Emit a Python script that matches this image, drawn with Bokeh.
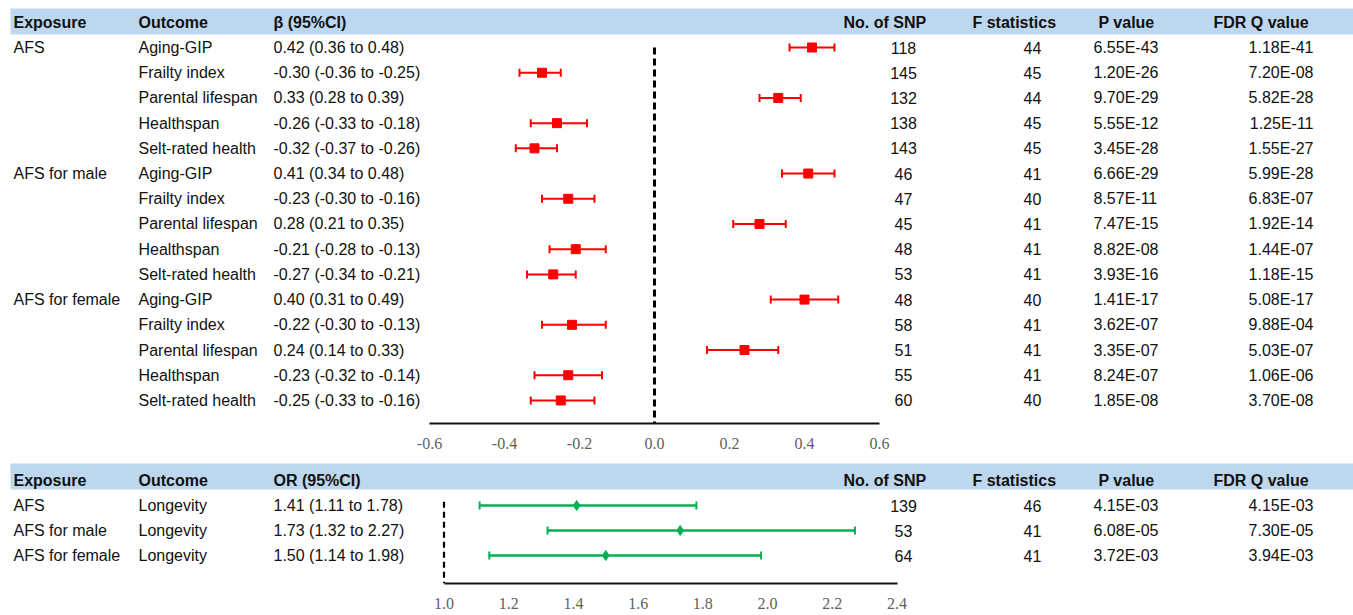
import numpy as np
from bokeh.plotting import figure
from bokeh.models import Range1d, LinearAxis, FixedTicker, PrintfTickFormatter, ColumnDataSource
from bokeh.layouts import column
from bokeh.core.properties import value
from bokeh.embed import file_html
from bokeh.resources import INLINE

# ---------------- data ----------------
exposure_groups = ["AFS", "AFS for male", "AFS for female"]
outcome_names = ["Aging-GIP", "Frailty index", "Parental lifespan", "Healthspan", "Selt-rated health"]
beta = [0.42, -0.30, 0.33, -0.26, -0.32, 0.41, -0.23, 0.28, -0.21, -0.27, 0.40, -0.22, 0.24, -0.23, -0.25]
beta_lo = [0.36, -0.36, 0.28, -0.33, -0.37, 0.34, -0.30, 0.21, -0.28, -0.34, 0.31, -0.30, 0.14, -0.32, -0.33]
beta_hi = [0.48, -0.25, 0.39, -0.18, -0.26, 0.48, -0.16, 0.35, -0.13, -0.21, 0.49, -0.13, 0.33, -0.14, -0.16]
n_snp = [118, 145, 132, 138, 143, 46, 47, 45, 48, 53, 48, 58, 51, 55, 60]
f_stat = [44, 45, 44, 45, 45, 41, 40, 41, 41, 41, 40, 41, 41, 41, 40]
p_value = ["6.55E-43", "1.20E-26", "9.70E-29", "5.55E-12", "3.45E-28",
           "6.66E-29", "8.57E-11", "7.47E-15", "8.82E-08", "3.93E-16",
           "1.41E-17", "3.62E-07", "3.35E-07", "8.24E-07", "1.85E-08"]
fdr_q = ["1.18E-41", "7.20E-08", "5.82E-28", "1.25E-11", "1.55E-27",
         "5.99E-28", "6.83E-07", "1.92E-14", "1.44E-07", "1.18E-15",
         "5.08E-17", "9.88E-04", "5.03E-07", "1.06E-06", "3.70E-08"]
beta_ticks = [-0.6, -0.4, -0.2, 0.0, 0.2, 0.4, 0.6]

lon_exposure = ["AFS", "AFS for male", "AFS for female"]
lon_outcome = ["Longevity", "Longevity", "Longevity"]
odds = [1.41, 1.73, 1.50]
odds_lo = [1.11, 1.32, 1.14]
odds_hi = [1.78, 2.27, 1.98]
lon_snp = [139, 53, 64]
lon_f = [46, 41, 41]
lon_p = ["4.15E-03", "6.08E-05", "3.72E-03"]
lon_fdr = ["4.15E-03", "7.30E-05", "3.94E-03"]
or_ticks = [1.0, 1.2, 1.4, 1.6, 1.8, 2.0, 2.2, 2.4]

headers_top = ["Exposure", "Outcome", "\u03b2 (95%CI)", "No. of SNP", "F statistics", "P value", "FDR Q value"]
headers_bot = ["Exposure", "Outcome", "OR (95%CI)", "No. of SNP", "F statistics", "P value", "FDR Q value"]

# ---------------- layout constants ----------------
W = 1353
FONT = value("Liberation Sans")
FS = "16px"
TXT = "#111111"
HEAD_BG = "#BDD7EE"
RED = "#FF0000"
GREEN = "#00B050"

# column x positions (screen-like coords inside frame)
COL_HEAD_X = [13, 138, 273, 843, 972, 1098, 1213]
SNP_X, F_X, P_X, FDR_X = 903, 1032, 1093, 1313


def make_panel(height, border_bottom, row0_px, row_step, head_top_px, head_bot_px,
               axis_left_px, axis_right_px, ax_min, ax_max):
    frame_h = height - border_bottom
    y_start = (frame_h - row0_px) / row_step
    y_end = -row0_px / row_step
    scale = (axis_right_px - axis_left_px) / (ax_max - ax_min)
    fr_start = ax_min - axis_left_px / scale
    fr_end = ax_max + (W - axis_right_px) / scale
    p = figure(width=W, height=height, output_backend="svg", toolbar_location=None,
               x_range=Range1d(0, W), y_range=Range1d(y_start, y_end),
               x_axis_type=None, y_axis_type=None,
               min_border_left=0, min_border_right=0, min_border_top=0,
               min_border_bottom=border_bottom)
    p.outline_line_color = None
    p.xgrid.visible = False
    p.ygrid.visible = False
    p.extra_x_ranges = {"est": Range1d(fr_start, fr_end)}
    # header background
    p.quad(left=[10], right=[W], top=[(head_top_px - row0_px) / row_step],
           bottom=[(head_bot_px - row0_px) / row_step],
           fill_color=HEAD_BG, line_color=None)
    return p, y_start


def add_axis(p, ticks, lo, hi, standoff):
    ax = LinearAxis(x_range_name="est", ticker=FixedTicker(ticks=ticks),
                    formatter=PrintfTickFormatter(format="%.1f"), bounds=(lo, hi))
    ax.axis_line_width = 2
    ax.axis_line_color = "#111111"
    ax.major_tick_line_color = None
    ax.minor_tick_line_color = None
    ax.major_label_standoff = standoff
    ax.major_label_text_font = "Liberation Serif"
    ax.major_label_text_font_size = "16px"
    ax.major_label_text_color = "#606060"
    p.add_layout(ax, "below")


def add_text(p, xs, ys, texts, align="left", bold=False):
    p.text(x=xs, y=ys, text=texts, text_font=FONT, text_font_size=FS,
           text_baseline="middle", text_align=align, text_color=TXT,
           text_font_style="bold" if bold else "normal")


# ---------------- top panel ----------------
top, top_ystart = make_panel(height=455, border_bottom=32, row0_px=47, row_step=25.21,
                             head_top_px=8, head_bot_px=34,
                             axis_left_px=429, axis_right_px=879, ax_min=-0.6, ax_max=0.6)
n = len(beta)
rows = list(range(n))
add_text(top, COL_HEAD_X, [-1] * len(headers_top), headers_top, bold=True)
add_text(top, [COL_HEAD_X[0]] * 3, [0, 5, 10], exposure_groups)
outcomes = [outcome_names[i % 5] for i in range(n)]
add_text(top, [COL_HEAD_X[1]] * n, rows, outcomes)
est_txt = [f"{b:.2f} ({l:.2f} to {h:.2f})" for b, l, h in zip(beta, beta_lo, beta_hi)]
add_text(top, [COL_HEAD_X[2]] * n, rows, est_txt)
add_text(top, [SNP_X] * n, rows, [str(v) for v in n_snp], align="center")
add_text(top, [F_X] * n, rows, [str(v) for v in f_stat], align="center")
add_text(top, [P_X] * n, rows, p_value)
add_text(top, [FDR_X] * n, rows, fdr_q, align="right")

# zero reference line
top.segment(x0=[0], x1=[0], y0=[0.0], y1=[top_ystart], x_range_name="est",
            line_color="#000000", line_width=3, line_dash="7 4")
src_t = ColumnDataSource(dict(y=rows, b=beta, lo=beta_lo, hi=beta_hi))
top.segment(x0="lo", x1="hi", y0="y", y1="y", source=src_t, x_range_name="est",
            line_color=RED, line_width=2)
top.scatter(x="lo", y="y", source=src_t, x_range_name="est", marker="dash", angle=np.pi / 2,
            size=8, line_color=RED, line_width=2)
top.scatter(x="hi", y="y", source=src_t, x_range_name="est", marker="dash", angle=np.pi / 2,
            size=8, line_color=RED, line_width=2)
top.scatter(x="b", y="y", source=src_t, x_range_name="est", marker="square",
            size=9, fill_color=RED, line_color=RED)
add_axis(top, beta_ticks, -0.6, 0.6, 8)

# ---------------- bottom panel ----------------
bot, bot_ystart = make_panel(height=160, border_bottom=32, row0_px=50, row_step=25,
                             head_top_px=8, head_bot_px=34,
                             axis_left_px=443.5, axis_right_px=896.5, ax_min=1.0, ax_max=2.4)
m = len(odds)
rows_b = list(range(m))
add_text(bot, COL_HEAD_X, [-1] * len(headers_bot), headers_bot, bold=True)
add_text(bot, [COL_HEAD_X[0]] * m, rows_b, lon_exposure)
add_text(bot, [COL_HEAD_X[1]] * m, rows_b, lon_outcome)
or_txt = [f"{b:.2f} ({l:.2f} to {h:.2f})" for b, l, h in zip(odds, odds_lo, odds_hi)]
add_text(bot, [COL_HEAD_X[2]] * m, rows_b, or_txt)
add_text(bot, [SNP_X] * m, rows_b, [str(v) for v in lon_snp], align="center")
add_text(bot, [F_X] * m, rows_b, [str(v) for v in lon_f], align="center")
add_text(bot, [P_X] * m, rows_b, lon_p)
add_text(bot, [FDR_X] * m, rows_b, lon_fdr, align="right")

bot.segment(x0=[1.0], x1=[1.0], y0=[-0.15], y1=[bot_ystart], x_range_name="est",
            line_color="#000000", line_width=2.2, line_dash="6 4")
src_b = ColumnDataSource(dict(y=rows_b, b=odds, lo=odds_lo, hi=odds_hi))
bot.segment(x0="lo", x1="hi", y0="y", y1="y", source=src_b, x_range_name="est",
            line_color=GREEN, line_width=2.5)
bot.scatter(x="lo", y="y", source=src_b, x_range_name="est", marker="dash", angle=np.pi / 2,
            size=8, line_color=GREEN, line_width=2)
bot.scatter(x="hi", y="y", source=src_b, x_range_name="est", marker="dash", angle=np.pi / 2,
            size=8, line_color=GREEN, line_width=2)
bot.scatter(x="b", y="y", source=src_b, x_range_name="est", marker="diamond",
            size=10, fill_color=GREEN, line_color=GREEN)
add_axis(bot, or_ticks, 1.0, 2.4, 8)

layout = column(top, bot, spacing=0)
open("out.html", "w").write(file_html(layout, INLINE))
